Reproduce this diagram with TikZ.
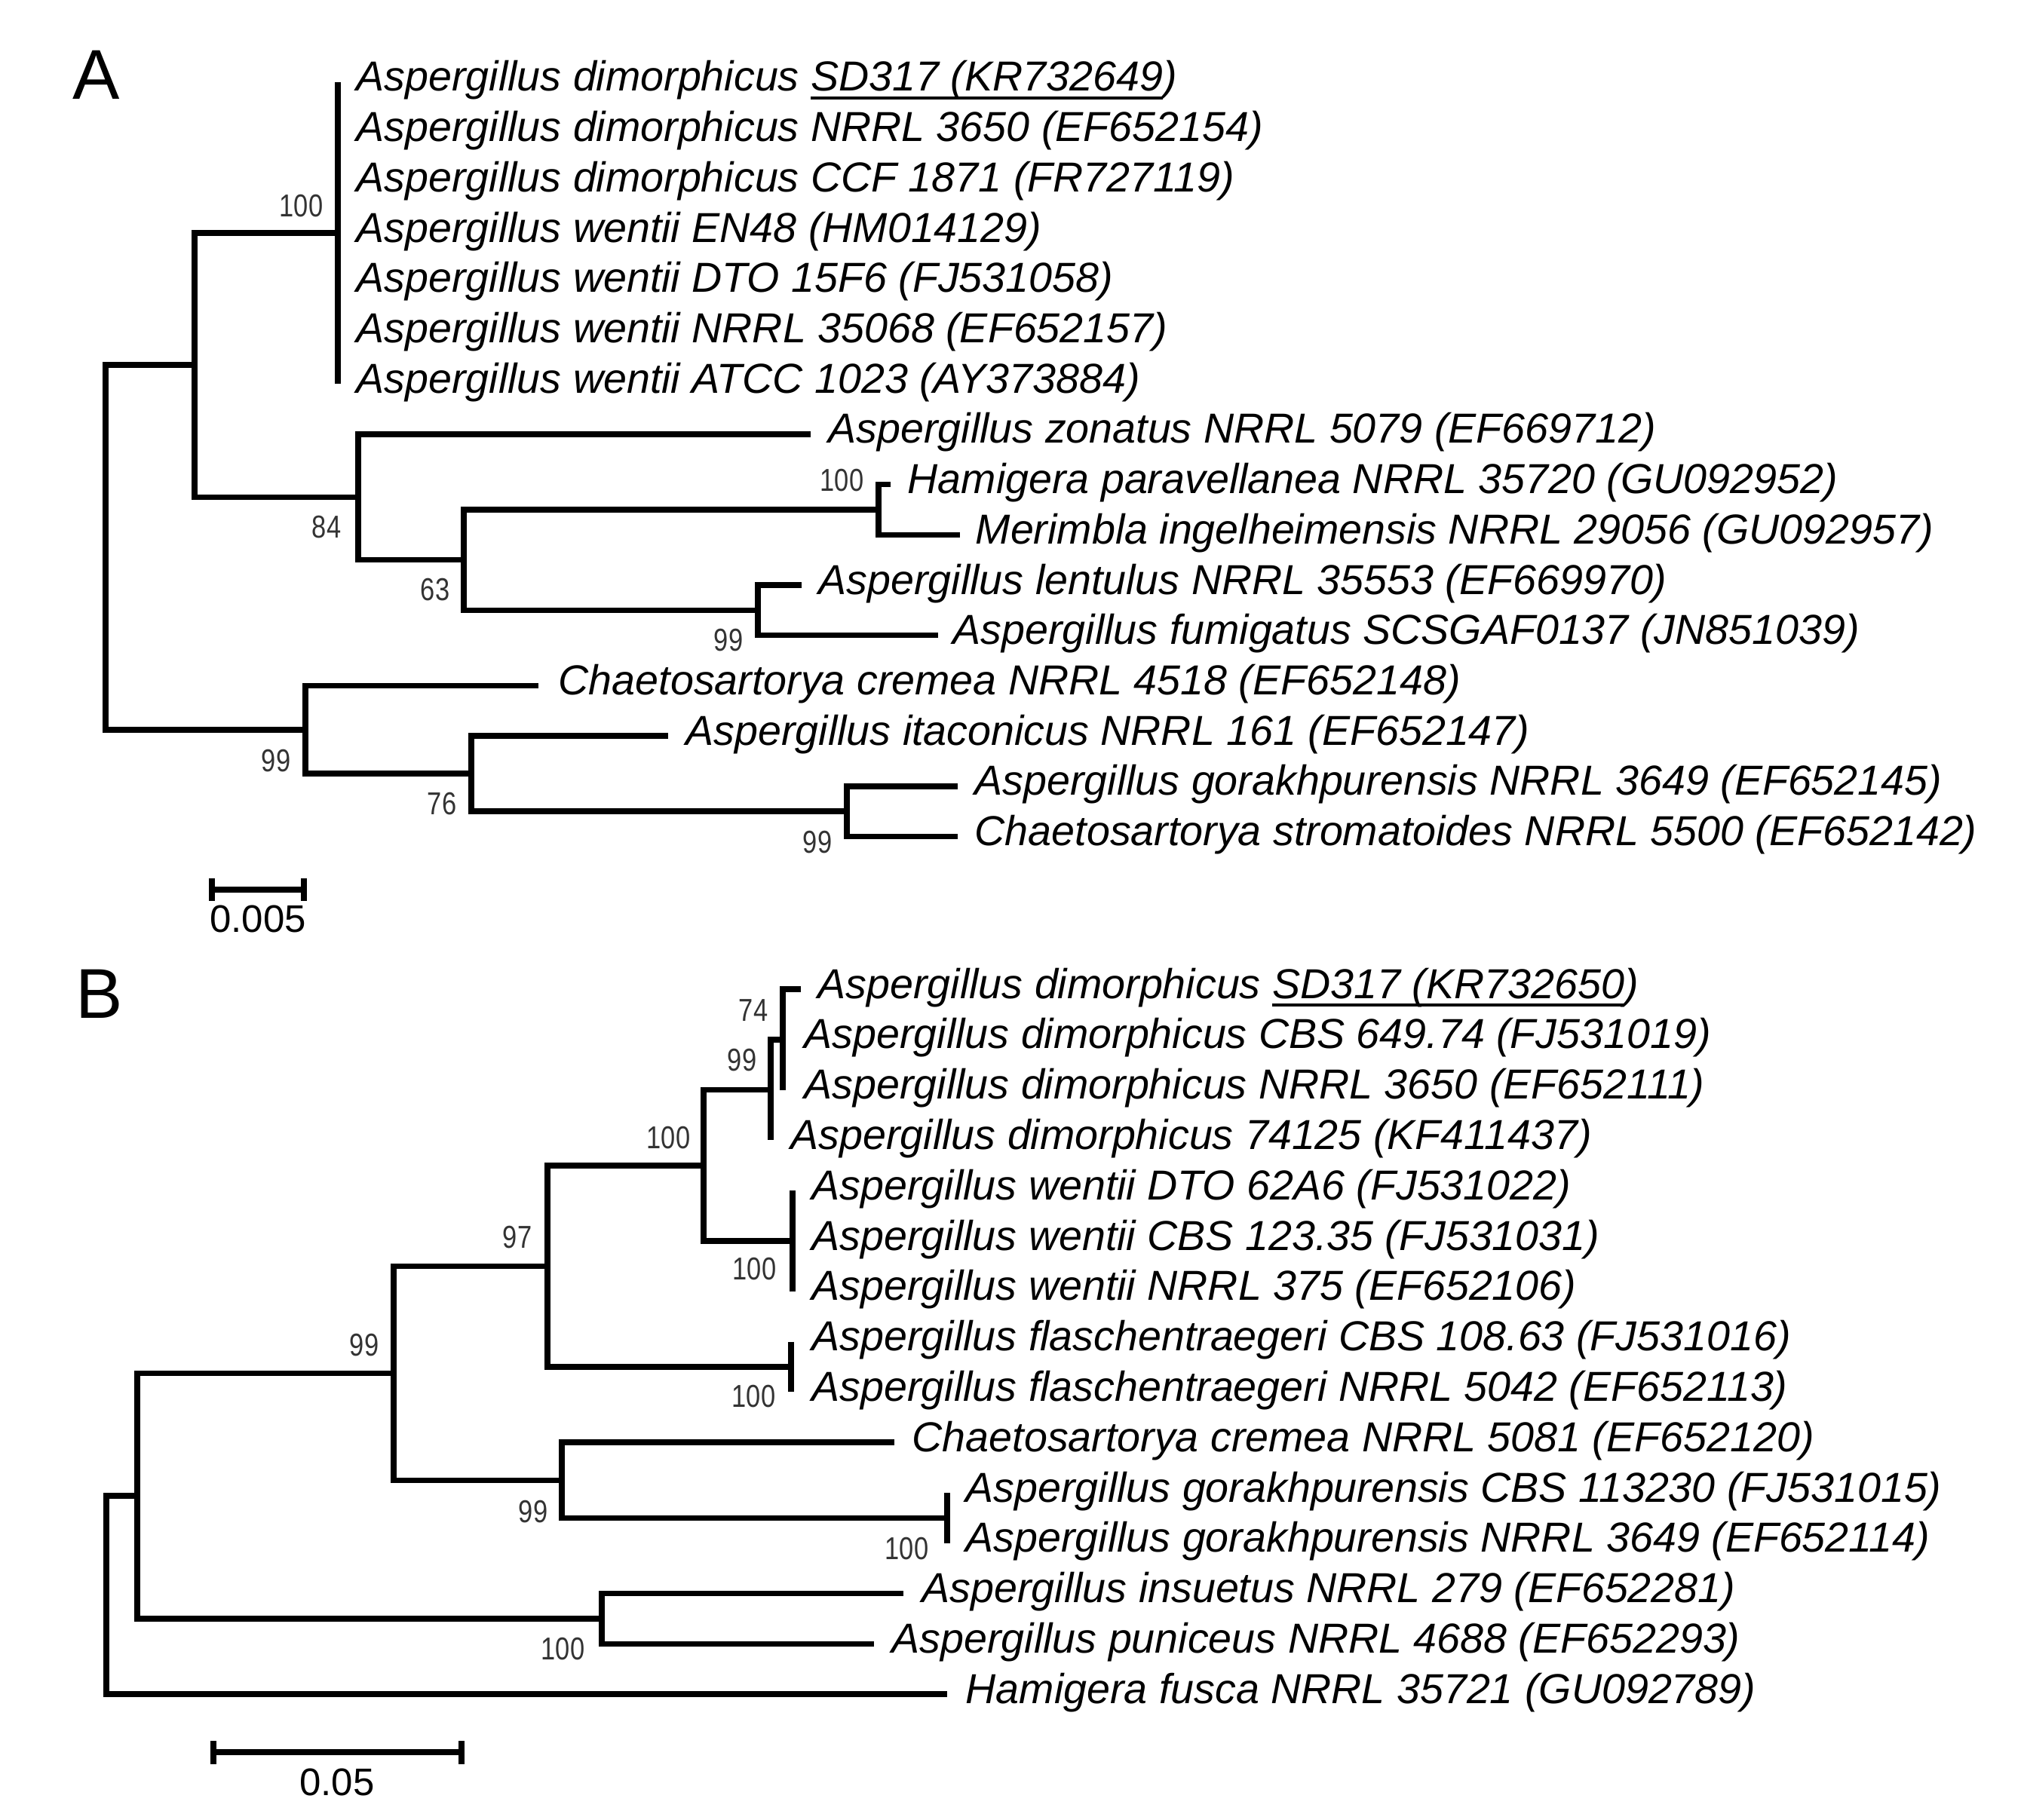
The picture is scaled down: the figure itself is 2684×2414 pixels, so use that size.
\documentclass[tikz,border=0pt]{standalone}
\usepackage{fontspec}
\setmainfont{Liberation Sans}
\newfontfamily\bsfont[FakeStretch=0.82]{Liberation Sans}
\newsavebox\ulbox
\newcommand\myul[1]{\sbox\ulbox{#1}\rlap{\rule[-3.1pt]{\wd\ulbox}{1.1pt}}\usebox\ulbox}
\begin{document}
\begin{tikzpicture}[x=0.1mm, y=-0.1mm, line width=0.75mm,
  leaf/.style={font=\fontsize{15.82pt}{19pt}\selectfont\itshape, inner sep=0pt, anchor=base west},
  bs/.style={font=\bsfont\fontsize{11.95pt}{14pt}\selectfont, text=black!80, inner sep=0pt},
  panel/.style={font=\fontsize{26.6pt}{30pt}\selectfont, inner sep=0pt, anchor=base west},
  scl/.style={font=\fontsize{14.5pt}{17pt}\selectfont, inner sep=0pt, anchor=north}]
\useasboundingbox (0,0) rectangle (2684,2414);
\fill[white] (0,0) rectangle (2684,2414);

% ================= Panel A =================
\node[panel] (labA) at (93,132) {A};
% tips
\coordinate (aT0) at (448,109);
\coordinate (aT1) at (448,175.7);
\coordinate (aT2) at (448,242.4);
\coordinate (aT3) at (448,309.1);
\coordinate (aT4) at (448,375.8);
\coordinate (aT5) at (448,442.5);
\coordinate (aT6) at (448,509.2);
\coordinate (aT7) at (1075,575.9);
\coordinate (aT8) at (1181,642.6);
\coordinate (aT9) at (1273,709.3);
\coordinate (aT10) at (1063,776);
\coordinate (aT11) at (1244,842.7);
\coordinate (aT12) at (714,909.4);
\coordinate (aT13) at (886,976.1);
\coordinate (aT14) at (1270,1042.8);
\coordinate (aT15) at (1270,1109.5);
% internal nodes
\coordinate (a100) at (448,309.1);
\coordinate (aHM) at (1165,676);
\coordinate (aLF) at (1005,809.4);
\coordinate (a63) at (615,742.7);
\coordinate (a84) at (475,659.3);
\coordinate (aC1) at (258,484.2);
\coordinate (aGS) at (1123,1076.2);
\coordinate (a76) at (625,1026.1);
\coordinate (aC2) at (405,967.8);
\coordinate (aR) at (140,726);
% branches
\draw (aT0) -- (aT6);
\draw (aT8) -| (aHM) |- (aT9);
\draw (aT10) -| (aLF) |- (aT11);
\draw (aHM) -| (a63) |- (aLF);
\draw (aT7) -| (a84) |- (a63);
\draw (a100) -| (aC1) |- (a84);
\draw (aT14) -| (aGS) |- (aT15);
\draw (aT13) -| (a76) |- (aGS);
\draw (aT12) -| (aC2) |- (a76);
\draw (aC1) -| (aR) |- (aC2);
% bootstrap
\node[bs, anchor=south east] (bA1) at (432,292) {100};
\node[bs, anchor=south east] (bA2) at (1149,656) {100};
\node[bs, anchor=north east] (bA3) at (456,680) {84};
\node[bs, anchor=north east] (bA4) at (600,763) {63};
\node[bs, anchor=north east] (bA5) at (989,830) {99};
\node[bs, anchor=north east] (bA6) at (389,990) {99};
\node[bs, anchor=north east] (bA7) at (609,1047) {76};
\node[bs, anchor=north east] (bA8) at (1107,1098) {99};
% leaf labels
\node[leaf] (nA0) at (469,121) {Aspergillus dimorphicus \myul{SD317 (KR732649})};
\node[leaf] (nA1) at (469,187.7) {Aspergillus dimorphicus NRRL 3650 (EF652154)};
\node[leaf] (nA2) at (469,254.4) {Aspergillus dimorphicus CCF 1871 (FR727119)};
\node[leaf] (nA3) at (469,321.1) {Aspergillus wentii EN48 (HM014129)};
\node[leaf] (nA4) at (469,387.8) {Aspergillus wentii DTO 15F6 (FJ531058)};
\node[leaf] (nA5) at (469,454.5) {Aspergillus wentii NRRL 35068 (EF652157)};
\node[leaf] (nA6) at (469,521.2) {Aspergillus wentii ATCC 1023 (AY373884)};
\node[leaf] (nA7) at (1095,587.9) {Aspergillus zonatus NRRL 5079 (EF669712)};
\node[leaf] (nA8) at (1200,654.6) {Hamigera paravellanea NRRL 35720 (GU092952)};
\node[leaf] (nA9) at (1290,721.3) {Merimbla ingelheimensis NRRL 29056 (GU092957)};
\node[leaf] (nA10) at (1082,788) {Aspergillus lentulus NRRL 35553 (EF669970)};
\node[leaf] (nA11) at (1260,854.7) {Aspergillus fumigatus SCSGAF0137 (JN851039)};
\node[leaf] (nA12) at (737,921.4) {Chaetosartorya cremea NRRL 4518 (EF652148)};
\node[leaf] (nA13) at (906,988.1) {Aspergillus itaconicus NRRL 161 (EF652147)};
\node[leaf] (nA14) at (1289,1054.8) {Aspergillus gorakhpurensis NRRL 3649 (EF652145)};
\node[leaf] (nA15) at (1289,1121.5) {Chaetosartorya stromatoides NRRL 5500 (EF652142)};
% scale bar A
\coordinate (sA1) at (281,1180);
\coordinate (sA2) at (403,1180);
\coordinate (sA1t) at (281,1165);
\coordinate (sA1b) at (281,1195);
\coordinate (sA2t) at (403,1165);
\coordinate (sA2b) at (403,1195);
\draw (sA1) -- (sA2);
\draw (sA1t) -- (sA1b);
\draw (sA2t) -- (sA2b);
\node[scl] (sAl) at (342,1197) {0.005};

% ================= Panel B =================
\node[panel] (labB) at (97,1350) {B};
\coordinate (bT0) at (1062,1312);
\coordinate (bT1) at (1038,1378.8);
\coordinate (bT2) at (1038,1445.6);
\coordinate (bT3) at (1022,1512.4);
\coordinate (bT4) at (1051,1579.2);
\coordinate (bT5) at (1051,1646);
\coordinate (bT6) at (1051,1712.8);
\coordinate (bT7) at (1049,1779.6);
\coordinate (bT8) at (1049,1846.4);
\coordinate (bT9) at (1186,1913.2);
\coordinate (bT10) at (1256,1980);
\coordinate (bT11) at (1256,2046.8);
\coordinate (bT12) at (1198,2113.6);
\coordinate (bT13) at (1159,2180.4);
\coordinate (bT14) at (1256,2247.2);
\coordinate (b74) at (1038,1378.8);
\coordinate (b99a) at (1022,1445.6);
\coordinate (bW) at (1051,1646);
\coordinate (b100) at (933,1545.8);
\coordinate (bF) at (1049,1813);
\coordinate (b97) at (726,1679.4);
\coordinate (bG) at (1256,2013.4);
\coordinate (bCG) at (745,1963.3);
\coordinate (b99b) at (522,1821.4);
\coordinate (bIP) at (798,2147);
\coordinate (bN) at (182,1984.2);
\coordinate (bR) at (141,2115.7);
\draw (bT0) -| (b74) -- (bT2);
\draw (b74) -| (b99a) -- (bT3);
\draw (bT4) -- (bT6);
\draw (b99a) -| (b100) |- (bW);
\draw (bT7) -- (bT8);
\draw (b100) -| (b97) |- (bF);
\draw (bT10) -- (bT11);
\draw (bT9) -| (bCG) |- (bG);
\draw (b97) -| (b99b) |- (bCG);
\draw (bT12) -| (bIP) |- (bT13);
\draw (b99b) -| (bN) |- (bIP);
\draw (bN) -| (bR) |- (bT14);
% bootstrap
\node[bs, anchor=south east] (bB1) at (1022,1358) {74};
\node[bs, anchor=south east] (bB2) at (1007,1425) {99};
\node[bs, anchor=south east] (bB3) at (919,1528) {100};
\node[bs, anchor=north east] (bB4) at (1033,1664) {100};
\node[bs, anchor=south east] (bB5) at (709,1660) {97};
\node[bs, anchor=north east] (bB6) at (1032,1833) {100};
\node[bs, anchor=south east] (bB7) at (506,1803) {99};
\node[bs, anchor=north east] (bB8) at (730,1986) {99};
\node[bs, anchor=north east] (bB9) at (1235,2035) {100};
\node[bs, anchor=north east] (bB10) at (779,2168) {100};
% leaf labels
\node[leaf] (nB0) at (1081,1324) {Aspergillus dimorphicus \myul{SD317 (KR732650})};
\node[leaf] (nB1) at (1063,1390.8) {Aspergillus dimorphicus CBS 649.74 (FJ531019)};
\node[leaf] (nB2) at (1063,1457.6) {Aspergillus dimorphicus NRRL 3650 (EF652111)};
\node[leaf] (nB3) at (1045,1524.4) {Aspergillus dimorphicus 74125 (KF411437)};
\node[leaf] (nB4) at (1073,1591.2) {Aspergillus wentii DTO 62A6 (FJ531022)};
\node[leaf] (nB5) at (1073,1658) {Aspergillus wentii CBS 123.35 (FJ531031)};
\node[leaf] (nB6) at (1073,1724.8) {Aspergillus wentii NRRL 375 (EF652106)};
\node[leaf] (nB7) at (1073,1791.6) {Aspergillus flaschentraegeri CBS 108.63 (FJ531016)};
\node[leaf] (nB8) at (1073,1858.4) {Aspergillus flaschentraegeri NRRL 5042 (EF652113)};
\node[leaf] (nB9) at (1206,1925.2) {Chaetosartorya cremea NRRL 5081 (EF652120)};
\node[leaf] (nB10) at (1277,1992) {Aspergillus gorakhpurensis CBS 113230 (FJ531015)};
\node[leaf] (nB11) at (1277,2058.8) {Aspergillus gorakhpurensis NRRL 3649 (EF652114)};
\node[leaf] (nB12) at (1219,2125.6) {Aspergillus insuetus NRRL 279 (EF652281)};
\node[leaf] (nB13) at (1179,2192.4) {Aspergillus puniceus NRRL 4688 (EF652293)};
\node[leaf] (nB14) at (1277,2259.2) {Hamigera fusca NRRL 35721 (GU092789)};
% scale bar B
\coordinate (sB1) at (283,2324);
\coordinate (sB2) at (612,2324);
\coordinate (sB1t) at (283,2309);
\coordinate (sB1b) at (283,2340);
\coordinate (sB2t) at (612,2309);
\coordinate (sB2b) at (612,2340);
\draw (sB1) -- (sB2);
\draw (sB1t) -- (sB1b);
\draw (sB2t) -- (sB2b);
\node[scl] (sBl) at (447,2342) {0.05};
\end{tikzpicture}
\end{document}
